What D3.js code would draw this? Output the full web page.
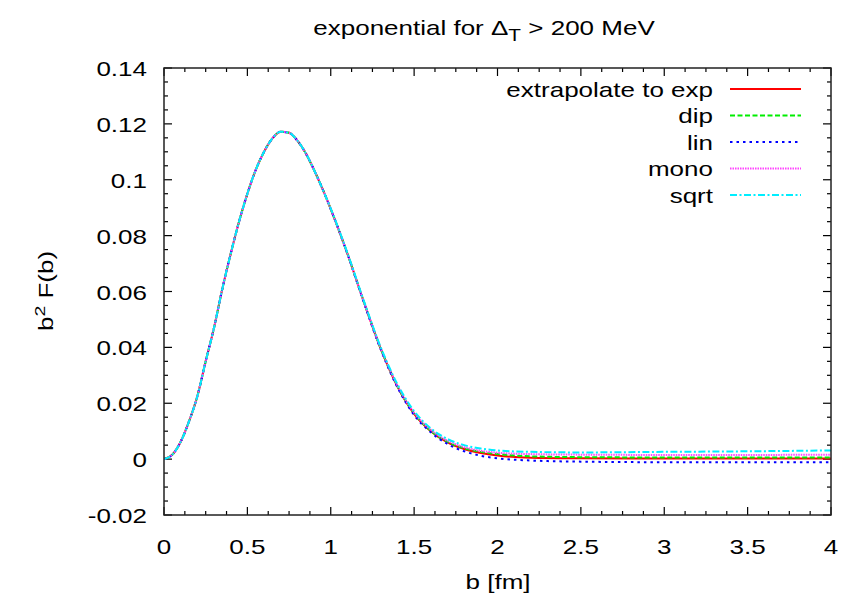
<!DOCTYPE html>
<html>
<head>
<meta charset="utf-8">
<script src="https://cdn.jsdelivr.net/npm/d3@7"></script>
<style>
  body { margin: 0; background: #fff; }
  text { font-family: "Liberation Sans", Arial, sans-serif; fill: #000; }
</style>
</head>
<body>
<div id="viz"></div>
<script>
// ====================
// DATA
// ====================
const bVals = [0, 0.05, 0.1, 0.15, 0.2, 0.25, 0.3, 0.35, 0.4, 0.45, 0.5, 0.55, 0.6, 0.65, 0.7, 0.75,
  0.8, 0.85, 0.9, 0.95, 1.0, 1.1, 1.2, 1.3, 1.4, 1.5, 1.6, 1.7, 1.8, 1.9, 2.0, 2.2, 2.5, 3.0, 3.5, 4.0];

const expVals = [0, 0.0016, 0.0062, 0.0135, 0.0225, 0.035, 0.047, 0.061, 0.0735, 0.085, 0.095, 0.1035,
  0.110, 0.1148, 0.1172, 0.1168, 0.1140, 0.1095, 0.1035, 0.0968, 0.0895, 0.0735, 0.0560, 0.0395,
  0.0260, 0.0162, 0.0100, 0.0060, 0.0036, 0.0022, 0.0013, 0.0005, 0.0003, 0.0002, 0.0002, 0.0002];
const dipVals = [0, 0.0016, 0.0062, 0.0135, 0.0225, 0.035, 0.047, 0.061, 0.0735, 0.085, 0.095, 0.1035,
  0.110, 0.1148, 0.1172, 0.1168, 0.1140, 0.1095, 0.1035, 0.0968, 0.0895, 0.0735, 0.0560, 0.0395,
  0.0261, 0.0163, 0.0101, 0.0062, 0.0039, 0.0026, 0.0018, 0.0010, 0.0007, 0.0006, 0.0006, 0.0006];
const linVals = [0, 0.0016, 0.0062, 0.0135, 0.0225, 0.035, 0.047, 0.061, 0.0735, 0.085, 0.095, 0.1035,
  0.110, 0.1148, 0.1172, 0.1168, 0.1140, 0.1095, 0.1035, 0.0968, 0.0895, 0.0735, 0.0558, 0.0392,
  0.0257, 0.0158, 0.0096, 0.0054, 0.0028, 0.0012, 0.0003, -0.0005, -0.0009, -0.0011, -0.0011, -0.0011];
const monoVals = [0, 0.0016, 0.0062, 0.0135, 0.0225, 0.035, 0.047, 0.061, 0.0735, 0.085, 0.095, 0.1035,
  0.110, 0.1148, 0.1172, 0.1168, 0.1140, 0.1095, 0.1035, 0.0968, 0.0895, 0.0735, 0.0560, 0.0396,
  0.0263, 0.0166, 0.0105, 0.0066, 0.0043, 0.0030, 0.0023, 0.0018, 0.0016, 0.0015, 0.0015, 0.0016];
const sqrtVals = [0, 0.0016, 0.0062, 0.0135, 0.0225, 0.035, 0.047, 0.061, 0.0735, 0.085, 0.095, 0.1035,
  0.110, 0.1148, 0.1172, 0.1168, 0.1140, 0.1095, 0.1035, 0.0968, 0.0897, 0.0738, 0.0564, 0.0400,
  0.0268, 0.0172, 0.0110, 0.0072, 0.0050, 0.0038, 0.0031, 0.0026, 0.0024, 0.0026, 0.0028, 0.0031];

const seriesNames = ['extrapolate to exp', 'dip', 'lin', 'mono', 'sqrt'];
const seriesValues = [expVals, dipVals, linVals, monoVals, sqrtVals];
const seriesColors = ['#ff0000', '#00ee00', '#0000ff', '#ff44ff', '#00eeff'];
const seriesDash = [null, '5,2.5', '2.5,4', '1.5,1', '7,2.5,2,2.5'];

const xTicks = [0, 0.5, 1, 1.5, 2, 2.5, 3, 3.5, 4];
const yTicks = [-0.02, 0, 0.02, 0.04, 0.06, 0.08, 0.1, 0.12, 0.14];

// ====================
// SETUP
// ====================
const width = 848;
const height = 596;
const plot = { left: 164, right: 831, top: 68, bottom: 515 };
const stretch = 1.3; // the text in the picture is drawn wide

const x = d3.scaleLinear().domain([0, 4]).range([plot.left, plot.right]);
const y = d3.scaleLinear().domain([-0.02, 0.14]).range([plot.bottom, plot.top]);

const svg = d3.select('#viz').append('svg')
  .attr('width', width)
  .attr('height', height);

// Wide text helper: places text and stretches it horizontally round its anchor
const wideText = (sel, px, py, str, anchor) => sel.append('text')
  .attr('transform', `translate(${px},${py}) scale(${stretch},1)`)
  .attr('text-anchor', anchor)
  .style('font-size', '20px')
  .text(str);

svg.append('defs').append('clipPath').attr('id', 'clip')
  .append('rect')
  .attr('x', plot.left).attr('y', plot.top)
  .attr('width', plot.right - plot.left).attr('height', plot.bottom - plot.top);

// ====================
// AXES (gnuplot style: inward ticks on all four sides)
// ====================
const tickG = svg.append('g').attr('stroke', '#000').attr('stroke-width', 1.2);

const xMinor = d3.range(0, 4.0001, 0.125);
const yMinor = d3.range(-0.02, 0.14001, 0.005);

xMinor.forEach((v) => {
  const major = xTicks.some((t) => Math.abs(t - v) < 1e-6);
  const len = major ? 8 : 4;
  tickG.append('line').attr('x1', x(v)).attr('x2', x(v)).attr('y1', plot.bottom).attr('y2', plot.bottom - len);
  tickG.append('line').attr('x1', x(v)).attr('x2', x(v)).attr('y1', plot.top).attr('y2', plot.top + len);
});
yMinor.forEach((v) => {
  const major = yTicks.some((t) => Math.abs(t - v) < 1e-6);
  const len = major ? 8 : 4;
  tickG.append('line').attr('y1', y(v)).attr('y2', y(v)).attr('x1', plot.left).attr('x2', plot.left + len);
  tickG.append('line').attr('y1', y(v)).attr('y2', y(v)).attr('x1', plot.right).attr('x2', plot.right - len);
});

// Tick labels (plain hyphen for the minus, as in the picture)
xTicks.forEach((t) => wideText(svg, x(t), 554, String(t), 'middle'));
yTicks.forEach((t) => wideText(svg, 147, y(t) + 8, String(t), 'end'));

// ====================
// CURVES
// ====================
const line = d3.line()
  .x((d) => x(d[0]))
  .y((d) => y(d[1]))
  .curve(d3.curveMonotoneX);

const curves = svg.append('g').attr('clip-path', 'url(#clip)');
seriesValues.forEach((vals, i) => {
  curves.append('path')
    .datum(bVals.map((b, j) => [b, vals[j]]))
    .attr('d', line)
    .attr('fill', 'none')
    .attr('stroke', seriesColors[i])
    .attr('stroke-width', 2)
    .attr('stroke-dasharray', seriesDash[i]);
});

// Frame
svg.append('rect')
  .attr('x', plot.left).attr('y', plot.top)
  .attr('width', plot.right - plot.left).attr('height', plot.bottom - plot.top)
  .attr('fill', 'none')
  .attr('stroke', '#222')
  .attr('stroke-width', 1.5);

// ====================
// LEGEND
// ====================
const legend = svg.append('g');
seriesNames.forEach((name, i) => {
  const ly = 89 + i * 26.5;
  wideText(legend, 713, ly + 7.5, name, 'end');
  legend.append('line')
    .attr('x1', 730).attr('x2', 801)
    .attr('y1', ly).attr('y2', ly)
    .attr('stroke', seriesColors[i])
    .attr('stroke-width', 2)
    .attr('stroke-dasharray', seriesDash[i]);
});

// ====================
// TITLES
// ====================
const title = svg.append('text')
  .attr('transform', `translate(484,35) scale(${stretch},1)`)
  .attr('text-anchor', 'middle')
  .style('font-size', '20px');
title.append('tspan').text('exponential for \u0394');
title.append('tspan').attr('dy', 6).style('font-size', '16px').text('T');
title.append('tspan').attr('dy', -6).text(' > 200 MeV');

wideText(svg, 498, 589, 'b [fm]', 'middle');

// rotated label, stretched along its length like the other texts
const yLabel = svg.append('text')
  .attr('transform', `translate(53,291) rotate(-90) scale(${stretch},1)`)
  .attr('text-anchor', 'middle')
  .style('font-size', '20px');
yLabel.append('tspan').text('b');
yLabel.append('tspan').attr('dy', -8).style('font-size', '15px').text('2');
yLabel.append('tspan').attr('dy', 8).text(' F(b)');
</script>
</body>
</html>
